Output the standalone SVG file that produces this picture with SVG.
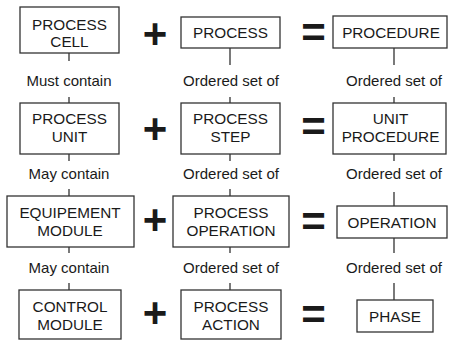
<svg xmlns="http://www.w3.org/2000/svg" width="451" height="341" viewBox="0 0 451 341">
<style>
.box{fill:#fff;stroke:#333;stroke-width:1.3}
.t{font-family:"Liberation Sans",Arial,sans-serif;font-size:15.3px;fill:#1a1a1a;text-anchor:middle}
.l{font-family:"Liberation Sans",Arial,sans-serif;font-size:15px;fill:#1a1a1a;text-anchor:middle}
.op{font-family:"Liberation Sans",Arial,sans-serif;font-size:42px;font-weight:bold;fill:#1a1a1a;text-anchor:middle}
.c{stroke:#333;stroke-width:1.3;fill:none}
</style>
<rect width="451" height="341" fill="#fff"/>
<g id="connectors">
<path class="c" d="M69 53V61M69 97V103M69 154V161M69 189V196M69 247V253M69 283V290"/>
<path class="c" d="M230 48V65M230 97V103M230 154V161M230 189V196M230 247V253M230 283V290"/>
<path class="c" d="M394 48V65M394 97V103M394 154V161M394 192V206M394 238V253M394 283V300"/>
</g>
<g id="labels">
<text class="l" x="69" y="86">Must contain</text>
<text class="l" x="231" y="86">Ordered set of</text>
<text class="l" x="394" y="86">Ordered set of</text>
<text class="l" x="69" y="179">May contain</text>
<text class="l" x="231" y="179">Ordered set of</text>
<text class="l" x="394" y="179">Ordered set of</text>
<text class="l" x="69" y="273">May contain</text>
<text class="l" x="231" y="273">Ordered set of</text>
<text class="l" x="394" y="273">Ordered set of</text>
</g>
<g id="operators">
<text class="op" x="155" y="48">+</text>
<text class="op" x="313.5" y="47">=</text>
<text class="op" x="155" y="143">+</text>
<text class="op" x="313.5" y="141">=</text>
<text class="op" x="155" y="234">+</text>
<text class="op" x="313.5" y="236">=</text>
<text class="op" x="155" y="327">+</text>
<text class="op" x="313.5" y="329">=</text>
</g>
<g id="process-cell"><rect class="box" x="20" y="7" width="99" height="46"/><text class="t" x="69.5" y="30">PROCESS</text><text class="t" x="69.5" y="47">CELL</text></g>
<g id="process"><rect class="box" x="181" y="17" width="99" height="31"/><text class="t" x="230.5" y="38">PROCESS</text></g>
<g id="procedure"><rect class="box" x="333" y="16" width="114" height="32"/><text class="t" x="391" y="38">PROCEDURE</text></g>
<g id="process-unit"><rect class="box" x="20" y="103" width="99" height="51"/><text class="t" x="69.5" y="124">PROCESS</text><text class="t" x="69.5" y="142">UNIT</text></g>
<g id="process-step"><rect class="box" x="181" y="103" width="99" height="51"/><text class="t" x="230.5" y="124">PROCESS</text><text class="t" x="230.5" y="142">STEP</text></g>
<g id="unit-procedure"><rect class="box" x="333" y="103" width="113" height="51"/><text class="t" x="390.5" y="124">UNIT</text><text class="t" x="390.5" y="142">PROCEDURE</text></g>
<g id="equipement-module"><rect class="box" x="7" y="196" width="127" height="51"/><text class="t" x="70" y="218">EQUIPEMENT</text><text class="t" x="70" y="236">MODULE</text></g>
<g id="process-operation"><rect class="box" x="173" y="196" width="116" height="51"/><text class="t" x="231" y="218">PROCESS</text><text class="t" x="231" y="236">OPERATION</text></g>
<g id="operation"><rect class="box" x="337" y="206" width="110" height="32"/><text class="t" x="392" y="228">OPERATION</text></g>
<g id="control-module"><rect class="box" x="19" y="290" width="102" height="49"/><text class="t" x="70" y="312">CONTROL</text><text class="t" x="70" y="330">MODULE</text></g>
<g id="process-action"><rect class="box" x="181" y="290" width="100" height="49"/><text class="t" x="231" y="312">PROCESS</text><text class="t" x="231" y="330">ACTION</text></g>
<g id="phase"><rect class="box" x="357" y="300" width="76" height="32"/><text class="t" x="395" y="322">PHASE</text></g>
</svg>
